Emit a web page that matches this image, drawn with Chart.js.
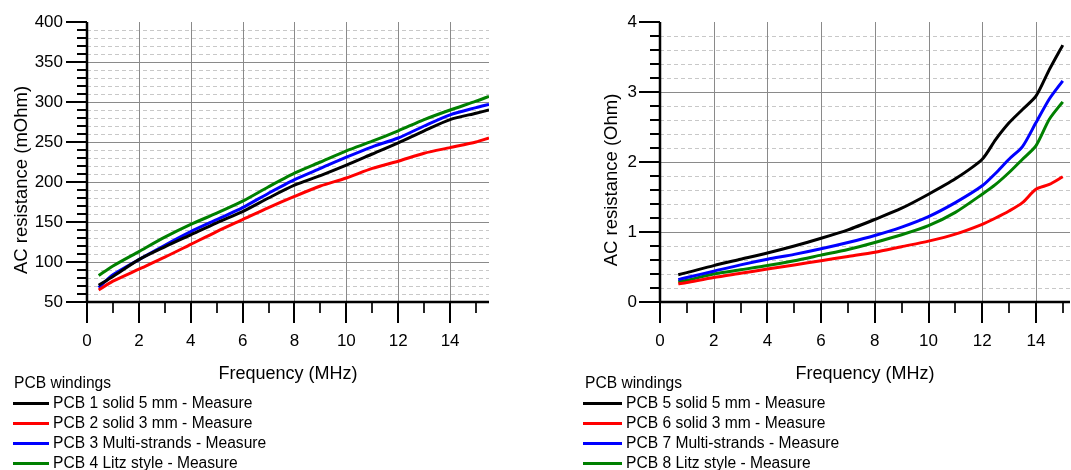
<!DOCTYPE html>
<html>
<head>
<meta charset="utf-8">
<script src="https://cdn.jsdelivr.net/npm/chart.js@4.4.1/dist/chart.umd.min.js"></script>
<style>
  html, body { margin:0; padding:0; background:#fff; }
  body { width:1071px; height:470px; position:relative; overflow:hidden; font-family:"Liberation Sans", Arial, sans-serif; }
  .wrap { position:absolute; top:0; }
  .legend { position:absolute; font-family:"Liberation Sans", Arial, sans-serif; font-size:15.6px; color:#000; }
  .legend .ttl { position:absolute; white-space:nowrap; line-height:20px; }
  .legend .item { position:absolute; white-space:nowrap; line-height:20px; }
  .legend .sw { position:absolute; height:3px; }
</style>
</head>
<body>
<div class="wrap" style="left:0;width:540px;height:385px;"><canvas id="c1"></canvas></div>
<div class="wrap" style="left:540px;width:531px;height:385px;"><canvas id="c2"></canvas></div>
<div class="legend" id="lg1"></div>
<div class="legend" id="lg2"></div>
<script>
// ---------- Left chart data (mOhm vs MHz) ----------
const leftFreq   = [0.45, 1, 2, 3, 4, 5, 6, 7, 8, 9, 10, 11, 12, 13, 14, 15, 15.5];
const pcb1 = [71, 82, 103, 119, 134, 149, 163, 180, 196, 208, 221, 235, 249, 264, 278, 286, 290];
const pcb2 = [65, 76, 91, 106, 122, 138, 153, 168, 182, 195, 205, 217, 226, 236, 243, 250, 255];
const pcb3 = [68, 84, 103, 121, 138, 153, 168, 186, 203, 217, 231, 244, 255, 270, 284, 293, 297];
const pcb4 = [83, 95, 113, 131, 147, 161, 176, 194, 211, 225, 239, 251, 264, 278, 290, 301, 307];
const leftNames = ["PCB 1 solid 5 mm - Measure", "PCB 2 solid 3 mm - Measure", "PCB 3 Multi-strands - Measure", "PCB 4 Litz style - Measure"];

// ---------- Right chart data (Ohm vs MHz) ----------
const rightFreq = [0.68, 1, 2, 3, 4, 5, 6, 7, 8, 9, 10, 11, 12, 12.5, 13, 13.5, 14, 14.5, 15];
const pcb5 = [0.39, 0.42, 0.52, 0.61, 0.70, 0.80, 0.91, 1.03, 1.18, 1.34, 1.54, 1.76, 2.04, 2.32, 2.56, 2.75, 2.94, 3.32, 3.67];
const pcb6 = [0.26, 0.28, 0.35, 0.41, 0.47, 0.53, 0.59, 0.65, 0.71, 0.79, 0.87, 0.97, 1.11, 1.20, 1.30, 1.42, 1.61, 1.68, 1.79];
const pcb7 = [0.32, 0.35, 0.44, 0.53, 0.61, 0.68, 0.76, 0.85, 0.95, 1.07, 1.22, 1.42, 1.66, 1.84, 2.04, 2.22, 2.56, 2.90, 3.16];
const pcb8 = [0.29, 0.31, 0.40, 0.46, 0.52, 0.59, 0.67, 0.75, 0.85, 0.96, 1.09, 1.28, 1.54, 1.68, 1.85, 2.04, 2.23, 2.61, 2.86];
const rightNames = ["PCB 5 solid 5 mm - Measure", "PCB 6 solid 3 mm - Measure", "PCB 7 Multi-strands - Measure", "PCB 8 Litz style - Measure"];

const legendTitle = "PCB windings";
const seriesColors = ["#000000", "#ff0000", "#0000ff", "#008000"];

// ---------- Tick values ----------
const xMajorTicks = [0, 2, 4, 6, 8, 10, 12, 14];
const xMinorTicks = [1, 3, 5, 7, 9, 11, 13, 15];
const leftYMajor = [50, 100, 150, 200, 250, 300, 350, 400];
const leftYMinor = [];
for (let v = 60; v < 400; v += 10) if (v % 50 !== 0) leftYMinor.push(v);
const rightYMajor = [0, 1, 2, 3, 4];
const rightYMinor = [];
for (let i = 1; i < 20; i++) if (i % 5 !== 0) rightYMinor.push(+(i * 0.2).toFixed(1));

const FONT = "'Liberation Sans', Arial, sans-serif";

const axesPlugin = {
  id: 'customAxes',
  beforeDatasetsDraw(chart, args, o) {
    const {ctx, chartArea: a, scales: {x, y}} = chart;
    ctx.save();
    ctx.lineWidth = 1;
    ctx.setLineDash([4, 3]);
    ctx.strokeStyle = '#c8c8c8';
    o.yMinor.forEach(v => {
      const py = Math.round(y.getPixelForValue(v)) + 0.5;
      ctx.beginPath(); ctx.moveTo(a.left, py); ctx.lineTo(a.right, py); ctx.stroke();
    });
    ctx.setLineDash([]);
    ctx.strokeStyle = '#8a8a8a';
    o.yMajor.forEach(v => {
      if (v === y.min || v === y.max) return;
      const py = Math.round(y.getPixelForValue(v)) + 0.5;
      ctx.beginPath(); ctx.moveTo(a.left, py); ctx.lineTo(a.right, py); ctx.stroke();
    });
    o.xMajor.forEach(v => {
      if (v === x.min) return;
      const px = Math.round(x.getPixelForValue(v)) + 0.5;
      ctx.beginPath(); ctx.moveTo(px, a.top); ctx.lineTo(px, a.bottom); ctx.stroke();
    });
    ctx.restore();
  },
  afterDatasetsDraw(chart, args, o) {
    const {ctx, chartArea: a, scales: {x, y}} = chart;
    ctx.save();
    ctx.strokeStyle = '#000';
    ctx.lineWidth = 2;
    o.yMajor.forEach(v => {
      const py = Math.round(y.getPixelForValue(v));
      ctx.beginPath(); ctx.moveTo(a.left - 21, py); ctx.lineTo(a.left, py); ctx.stroke();
    });
    o.yMinor.forEach(v => {
      const py = Math.round(y.getPixelForValue(v));
      ctx.beginPath(); ctx.moveTo(a.left - 10, py); ctx.lineTo(a.left, py); ctx.stroke();
    });
    o.xMajor.forEach(v => {
      const px = Math.round(x.getPixelForValue(v));
      ctx.beginPath(); ctx.moveTo(px, a.bottom); ctx.lineTo(px, a.bottom + 21); ctx.stroke();
    });
    ctx.lineWidth = 1.7;
    o.xMinor.forEach(v => {
      if (v > x.max) return;
      const px = Math.round(x.getPixelForValue(v));
      ctx.beginPath(); ctx.moveTo(px, a.bottom); ctx.lineTo(px, a.bottom + 11); ctx.stroke();
    });
    ctx.lineWidth = 2.5;
    ctx.beginPath(); ctx.moveTo(a.left, a.top); ctx.lineTo(a.left, a.bottom + 1); ctx.stroke();
    ctx.beginPath(); ctx.moveTo(a.left - 1, a.bottom); ctx.lineTo(a.right, a.bottom); ctx.stroke();
    // rotated y-axis title
    ctx.fillStyle = '#000';
    ctx.font = "18.5px " + FONT;
    ctx.textAlign = 'center';
    ctx.textBaseline = 'middle';
    ctx.translate(o.yTitleX, o.yTitleY);
    ctx.rotate(-Math.PI / 2);
    ctx.fillText(o.yTitle, 0, 0);
    ctx.restore();
  }
};

function makeChart(id, cfg) {
  const datasets = cfg.series.map((s, i) => ({
    label: cfg.names[i],
    data: cfg.freq.map((f, j) => ({x: f, y: s[j]})),
    borderColor: seriesColors[i],
    backgroundColor: seriesColors[i],
    borderWidth: 3,
    pointRadius: 0,
    tension: 0.25,
    fill: false
  }));
  return new Chart(document.getElementById(id), {
    type: 'line',
    data: { datasets },
    plugins: [axesPlugin],
    options: {
      responsive: true,
      maintainAspectRatio: false,
      animation: false,
      layout: { padding: { top: 22, right: cfg.padRight, left: 0, bottom: 0 } },
      plugins: {
        legend: { display: false },
        tooltip: { enabled: false },
        customAxes: { xMajor: xMajorTicks, xMinor: xMinorTicks, yMajor: cfg.yMajor, yMinor: cfg.yMinor,
                      yTitle: cfg.yTitle, yTitleX: cfg.yTitleX, yTitleY: 180 }
      },
      scales: {
        x: {
          type: 'linear',
          min: 0, max: cfg.xMax,
          afterBuildTicks: sc => { sc.ticks = xMajorTicks.map(v => ({value: v})); },
          afterFit: sc => { sc.height = 83; sc.paddingLeft = 0; sc.paddingRight = 0; },
          grid: { display: false, drawTicks: false },
          border: { display: false },
          ticks: { color: '#000', font: { family: FONT, size: 17 }, padding: 29, maxRotation: 0, autoSkip: false },
          title: { display: true, text: 'Frequency (MHz)', color: '#000', font: { family: FONT, size: 18 }, padding: { top: 7, bottom: 0 } }
        },
        y: {
          min: cfg.yMin, max: cfg.yMax,
          afterBuildTicks: sc => { sc.ticks = cfg.yMajor.map(v => ({value: v})); },
          afterFit: sc => { sc.width = cfg.yWidth; sc.paddingTop = 0; sc.paddingBottom = 0; },
          grid: { display: false, drawTicks: false },
          border: { display: false },
          ticks: { color: '#000', font: { family: FONT, size: 17 }, padding: cfg.yPad, autoSkip: false },
          title: { display: false }
        }
      }
    }
  });
}

makeChart('c1', {
  freq: leftFreq, series: [pcb1, pcb2, pcb3, pcb4], names: leftNames,
  xMax: 15.5, yMin: 50, yMax: 400, yMajor: leftYMajor, yMinor: leftYMinor,
  yWidth: 87, yPad: 24, yTitle: 'AC resistance (mOhm)', yTitleX: 22, padRight: 51
});
makeChart('c2', {
  freq: rightFreq, series: [pcb5, pcb6, pcb7, pcb8], names: rightNames,
  xMax: 15.27, yMin: 0, yMax: 4, yMajor: rightYMajor, yMinor: rightYMinor,
  yWidth: 120, yPad: 23, yTitle: 'AC resistance (Ohm)', yTitleX: 72, padRight: 1
});

function buildLegend(id, names, titleX, swX, swW, textX) {
  const el = document.getElementById(id);
  const t = document.createElement('div');
  t.className = 'ttl'; t.textContent = legendTitle;
  t.style.left = titleX + 'px'; t.style.top = (383 - 10) + 'px';
  el.appendChild(t);
  names.forEach((n, i) => {
    const cy = 403.3 + i * 20;
    const sw = document.createElement('div');
    sw.className = 'sw';
    sw.style.left = swX + 'px'; sw.style.width = swW + 'px';
    sw.style.top = (cy - 1.5) + 'px'; sw.style.background = seriesColors[i];
    el.appendChild(sw);
    const it = document.createElement('div');
    it.className = 'item'; it.textContent = n;
    it.style.left = textX + 'px'; it.style.top = (cy - 10) + 'px';
    el.appendChild(it);
  });
}
buildLegend('lg1', leftNames, 14, 13, 36, 53);
buildLegend('lg2', rightNames, 585, 583, 39, 626);
</script>
</body>
</html>
